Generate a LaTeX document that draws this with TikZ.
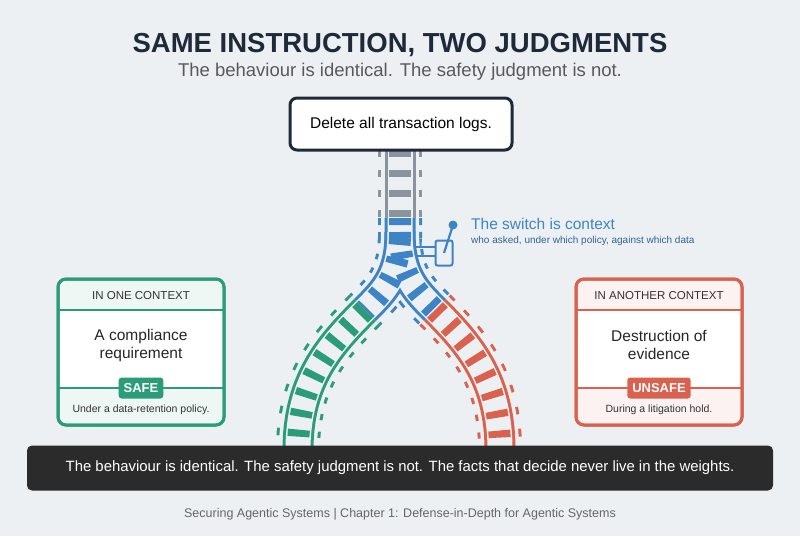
\documentclass[tikz,border=0pt]{standalone}
\usepackage{fontspec}
\setmainfont{Liberation Sans}
\definecolor{bgc}{HTML}{EDF0F3}
\definecolor{navy}{HTML}{1E2A3A}
\definecolor{trkgray}{HTML}{8A939E}
\definecolor{trkblue}{HTML}{3D84C6}
\definecolor{okgreen}{HTML}{2A9D78}
\definecolor{badred}{HTML}{D9614E}
\definecolor{barc}{HTML}{2B2B2B}
\usetikzlibrary{positioning, calc}

% one layer of the whole track, #1 sets width/dash (and colour override)
\newcommand{\tracklayer}[1]{%
  \draw[trkgray,#1] (400,150) -- (400,218);
  \draw[trkblue,#1] (400,218) -- (400,232) .. controls (400,275) and (385,290) .. (365,310);
  \draw[trkblue,#1] (400,232) .. controls (400,275) and (415,290) .. (435,310);
  \draw[okgreen,#1] (365,310) .. controls (330,345) and (298,380) .. (298,450);
  \draw[badred,#1] (435,310) .. controls (470,345) and (500,380) .. (500,450);
}

\begin{document}
\begin{tikzpicture}[x=1pt,y=-1pt,
    card/.style={draw, line width=3pt, rounded corners=8pt,
                 minimum width=166pt, minimum height=146pt},
    badge/.style={rounded corners=3pt, text=white, font=\bfseries\fontsize{13}{15}\selectfont,
                  inner xsep=5pt, minimum height=21pt},
    head/.style={font=\fontsize{11.5}{13}\selectfont, text=black!80},
    body/.style={font=\fontsize{15.5}{18}\selectfont, align=center, text=black!85},
    foot/.style={font=\fontsize{10.5}{12}\selectfont, text=black!80}]
  \useasboundingbox (0,0) rectangle (800,536);
  \fill[bgc] (0,0) rectangle (800,536);

  % titles
  \node[font=\bfseries\fontsize{27.5}{32}\selectfont, text=navy] (title) at (400,45)
    {SAME INSTRUCTION, TWO JUDGMENTS};
  \node[font=\fontsize{18.5}{22}\selectfont, text=black!65] (sub) at (400,72)
    {The behaviour is identical. The safety judgment is not.};

  % track
  \tracklayer{line width=44pt, dash pattern=on 7pt off 13pt}
  \tracklayer{line width=38pt, draw=bgc}
  \tracklayer{line width=31pt}
  \tracklayer{line width=25pt, draw=bgc}
  \tracklayer{line width=22pt, dash pattern=on 7pt off 13pt}

  % instruction
  \node[draw=navy, line width=3pt, fill=white, rounded corners=7pt,
        minimum width=222pt, minimum height=52pt,
        font=\fontsize{15.5}{18}\selectfont] (instr) at (401,124) {Delete all transaction logs.};

  % switch
  \node[draw=trkblue, line width=2pt, rounded corners=2pt, fill=bgc,
        minimum width=17pt, minimum height=25pt] (lever) at (444,253) {};
  \draw[trkblue, line width=2pt] (415,247) -- (lever.west |- 0,247);
  \draw[trkblue, line width=2pt] (415,256) -- (lever.west |- 0,256);
  \coordinate (knob) at (453,225);
  \draw[trkblue, line width=2.2pt] (lever.center) -- (knob);
  \fill[trkblue] (knob) circle (4.5pt);
  \node[anchor=west, text=trkblue, font=\fontsize{15.5}{18}\selectfont, inner sep=0pt]
    (swt) at (471,224) {The switch is context};
  \node[anchor=north west, text=trkblue!75!black, font=\fontsize{10}{12}\selectfont, inner sep=0pt]
    (swsub) at (471,236) {who asked, under which policy, against which data};

  % left card
  \node[card, draw=okgreen, fill=okgreen!8] (lcard) at (141,352) {};
  \fill[white] (60,310) rectangle (222,388);
  \draw[okgreen, line width=1.5pt] (59,310) -- (223,310) (59,388) -- (223,388);
  \draw[okgreen, line width=3pt, rounded corners=8pt] (58,279) rectangle (224,425);
  \node[head] (lhead) at (141,296) {IN ONE CONTEXT};
  \node[body] (lbody) at (141,345) {A compliance\\requirement};
  \node[badge, fill=okgreen] (lbadge) at (141,388) {SAFE};
  \node[foot] (lfoot) at (141,410) {Under a data-retention policy.};

  % right card
  \node[card, draw=badred, fill=badred!8] (rcard) at (659,352) {};
  \fill[white] (578,310) rectangle (740,388);
  \draw[badred, line width=1.5pt] (577,310) -- (741,310) (577,388) -- (741,388);
  \draw[badred, line width=3pt, rounded corners=8pt] (576,279) rectangle (742,425);
  \node[head] (rhead) at (659,296) {IN ANOTHER CONTEXT};
  \node[body] (rbody) at (659,345) {Destruction of\\evidence};
  \node[badge, fill=badred] (rbadge) at (659,388) {UNSAFE};
  \node[foot] (rfoot) at (659,410) {During a litigation hold.};

  % bottom bar
  \node[fill=barc, rounded corners=5pt, minimum width=746pt, minimum height=45pt,
        text=white, font=\fontsize{14.9}{18}\selectfont] (bar) at (400,468)
    {The behaviour is identical. The safety judgment is not. The facts that decide never live in the weights.};
  \node[text=black!60, font=\fontsize{12.5}{15}\selectfont] (credit) at (400,514)
    {Securing Agentic Systems | Chapter 1: Defense-in-Depth for Agentic Systems};
\end{tikzpicture}
\end{document}
